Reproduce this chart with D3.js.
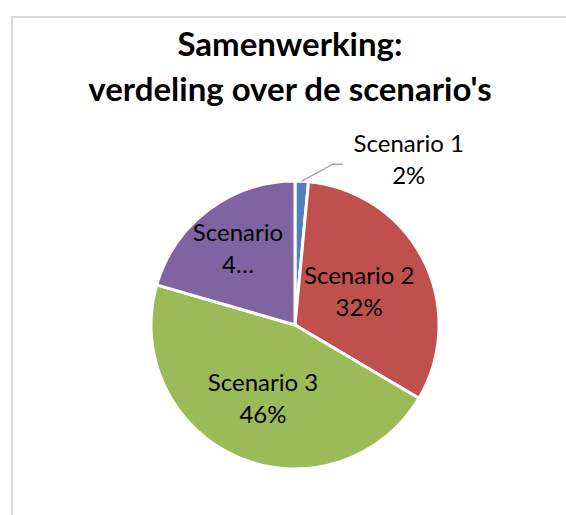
<!DOCTYPE html>
<html>
<head>
<meta charset="utf-8">
<script src="https://cdn.jsdelivr.net/npm/d3@7"></script>
<style>
  body { margin: 0; background: #fff; }
  svg { display: block; font-family: Lato, "Open Sans", sans-serif; }
</style>
</head>
<body>
<div id="chart"></div>
<script>
// Chart data
const titleLines = ["Samenwerking:", "verdeling over de scenario's"];
const categories = ["Scenario 1", "Scenario 2", "Scenario 3", "Scenario 4"];
const values = [1.5, 32, 46, 20.5];
const labelLines = [["Scenario 1", "2%"], ["Scenario 2", "32%"], ["Scenario 3", "46%"], ["Scenario", "4…"]];
const colors = ["#4F81BD", "#C0504D", "#9BBB59", "#8064A2"];

const width = 566, height = 515;
const cx = 295, cy = 325, radius = 144;

const svg = d3.select("#chart").append("svg")
  .attr("width", width)
  .attr("height", height);

// chart border
svg.append("rect")
  .attr("x", 12).attr("y", 17)
  .attr("width", width + 20).attr("height", height + 20)
  .attr("fill", "#fff")
  .attr("stroke", "#d9d9d9")
  .attr("stroke-width", 2);

// Title
svg.append("text")
  .attr("text-anchor", "middle")
  .attr("font-weight", "bold")
  .attr("font-size", 33)
  .attr("fill", "#000")
  .selectAll("tspan")
  .data(titleLines)
  .enter().append("tspan")
    .attr("x", 290)
    .attr("y", (d, i) => 56 + i * 45)
    .text(d => d);

const pie = d3.pie().sort(null).value(d => d);
const arcs = pie(values);

const arc = d3.arc().innerRadius(0).outerRadius(radius);

const g = svg.append("g").attr("transform", `translate(${cx},${cy})`);

g.selectAll("path.slice")
  .data(arcs)
  .enter().append("path")
    .attr("class", "slice")
    .attr("d", arc)
    .attr("fill", (d, i) => colors[i])
    .attr("stroke", "#fff")
    .attr("stroke-width", 3)
    .attr("stroke-linejoin", "round");

// label placement: fraction of radius for inside labels
const labelRatio = [null, 0.5, 0.56, 0.66];

function polar(a, r) {
  return [Math.sin(a) * r, -Math.cos(a) * r];
}

arcs.forEach((d, i) => {
  const mid = (d.startAngle + d.endAngle) / 2;
  let pos;
  if (labelRatio[i] === null) {
    // outside label with leader line
    const p0 = polar(mid, radius);
    const p1 = [p0[0] + 31, p0[1] - 17];
    const p2 = [p1[0] + 10, p1[1]];
    g.append("polyline")
      .attr("points", [p0, p1, p2].map(p => p.join(",")).join(" "))
      .attr("fill", "none")
      .attr("stroke", "#a6a6a6")
      .attr("stroke-width", 1.5);
    pos = [p2[0] + 66, p2[1] - 4];
  } else {
    pos = polar(mid, radius * labelRatio[i]);
  }
  const lines = labelLines[i];
  g.append("text")
    .attr("text-anchor", "middle")
    .attr("font-size", 24)
    .attr("fill", "#000")
    .selectAll("tspan")
    .data(lines)
    .enter().append("tspan")
      .attr("x", pos[0])
      .attr("y", (l, j) => pos[1] + (j - (lines.length - 1) / 2) * 32 + 8)
      .text(l => l);
});
</script>
</body>
</html>
